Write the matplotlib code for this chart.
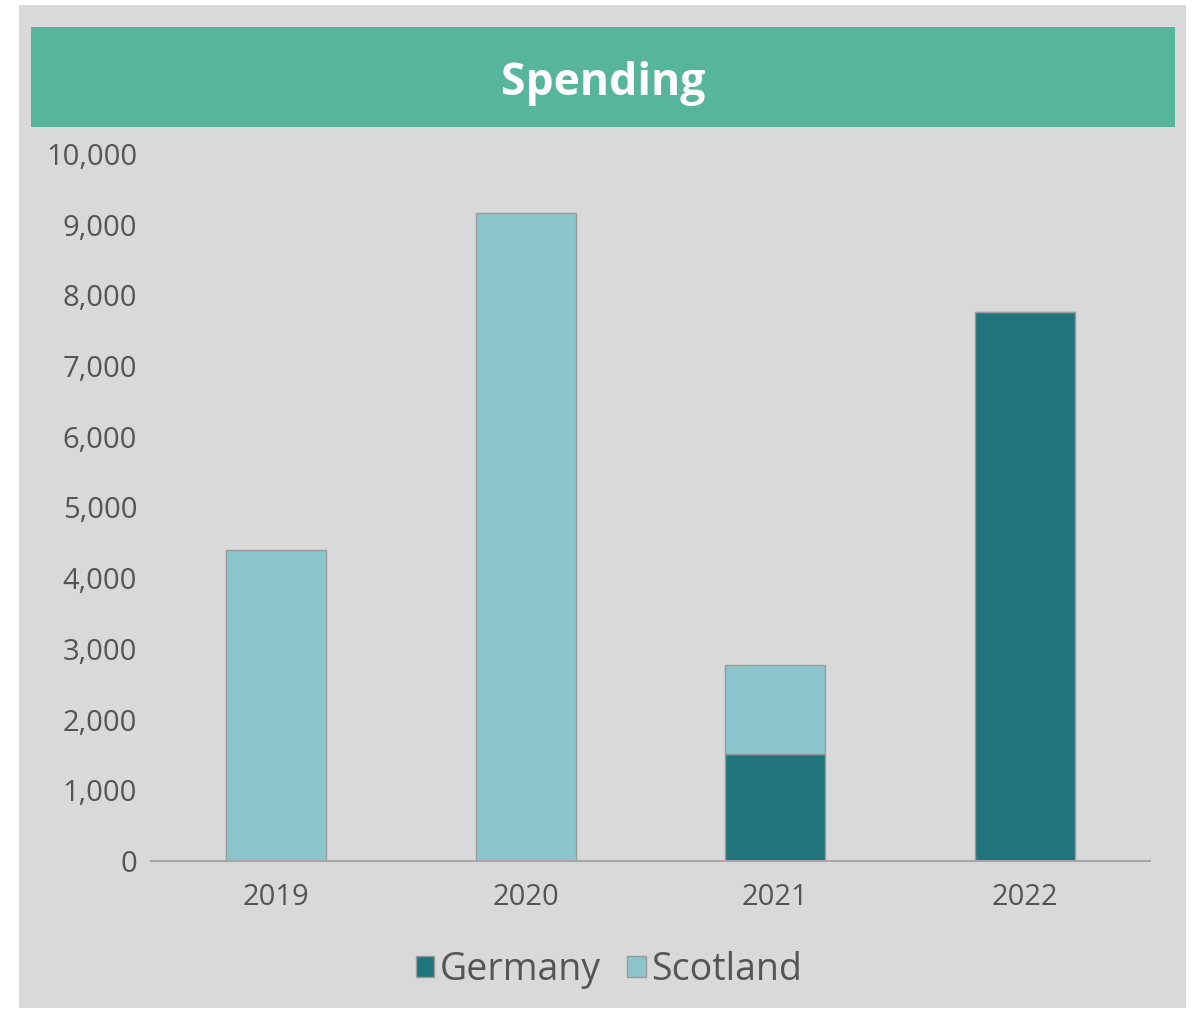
import numpy as np
import matplotlib.pyplot as plt
from matplotlib.patches import Rectangle

plt.rcParams['font.family'] = ['Open Sans', 'DejaVu Sans']

years = ['2019', '2020', '2021', '2022']
germany = [0, 0, 1510, 7770]
scotland = [4400, 9170, 1260, 0]

c_ger = '#20747c'
c_sco = '#8bc4cb'
txt = '#555555'

fig = plt.figure(figsize=(11.95, 10.11), dpi=100)
fig.patch.set_facecolor('white')
# grey card and green title banner
fig.patches.append(Rectangle((19/1195, 3/1011), 1167/1195, 1003/1011,
                             transform=fig.transFigure, facecolor='#d9d9d9', edgecolor='none', zorder=0))
fig.patches.append(Rectangle((31/1195, 884/1011), 1144/1195, 100/1011,
                             transform=fig.transFigure, facecolor='#56b59a', edgecolor='none', zorder=1))
fig.text(603/1195, 928/1011, 'Spending', color='white', fontsize=32, fontweight='bold',
         ha='center', va='center')

ax = fig.add_axes([151/1195, 150/1011, 999/1195, 707/1011])
ax.set_zorder(3)
ax.set_facecolor('none')
x = np.arange(len(years))
ax.bar(x, germany, width=0.4, color=c_ger, edgecolor='#9a9a9a', linewidth=1, label='Germany')
ax.bar(x, scotland, width=0.4, bottom=germany, color=c_sco, edgecolor='#9a9a9a', linewidth=1, label='Scotland')

ax.set_xlim(-0.5, 3.5)
ax.set_ylim(0, 10000)
ax.set_yticks(np.arange(0, 10001, 1000))
ax.set_yticklabels([f'{v:,}' for v in range(0, 10001, 1000)])
ax.set_xticks(x)
ax.set_xticklabels(years)
ax.tick_params(axis='y', length=0, pad=10, labelsize=21, labelcolor=txt)
ax.tick_params(axis='x', length=0, pad=16, labelsize=21, labelcolor=txt)
for s in ['top', 'right', 'left']:
    ax.spines[s].set_visible(False)
ax.spines['bottom'].set_color('#a6a6a6')
ax.spines['bottom'].set_linewidth(1.5)

leg = fig.legend(loc='center', bbox_to_anchor=(609/1195, 41/1011), ncol=2, frameon=False,
                 fontsize=27, handlelength=0.5, handleheight=0.5, handletextpad=0.15,
                 columnspacing=0.7, labelcolor=txt)
leg.set_zorder(3)

fig.savefig('out.png', dpi=100)
